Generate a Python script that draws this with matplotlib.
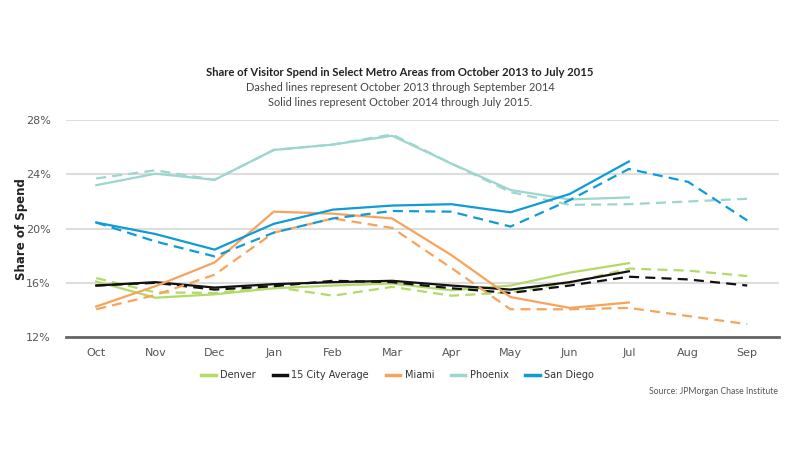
import numpy as np
import matplotlib.pyplot as plt

# months on the x axis (Oct..Sep)
months = ["Oct", "Nov", "Dec", "Jan", "Feb", "Mar", "Apr", "May", "Jun", "Jul", "Aug", "Sep"]

# solid lines: Oct 2014 - Jul 2015
denver_solid = [16.1, 14.9, 15.15, 15.6, 15.8, 15.95, 15.45, 15.8, 16.75, 17.45]
avg_solid = [15.8, 16.05, 15.65, 15.9, 16.05, 16.15, 15.8, 15.5, 16.05, 16.85]
miami_solid = [14.25, 15.75, 17.5, 21.25, 21.1, 20.75, 18.05, 14.95, 14.15, 14.55]
phoenix_solid = [23.2, 24.05, 23.6, 25.8, 26.2, 26.85, 24.8, 22.85, 22.15, 22.3]
sandiego_solid = [20.45, 19.6, 18.45, 20.35, 21.4, 21.7, 21.8, 21.2, 22.55, 24.95]

# dashed lines: Oct 2013 - Sep 2014
denver_dash = [16.35, 15.3, 15.25, 15.7, 15.05, 15.7, 15.05, 15.3, 16.0, 17.05, 16.9, 16.5]
avg_dash = [15.8, 16.0, 15.5, 15.75, 16.15, 16.05, 15.6, 15.25, 15.8, 16.45, 16.25, 15.8]
miami_dash = [14.05, 15.1, 16.6, 19.7, 20.75, 20.05, 17.1, 14.05, 14.05, 14.15, 13.55, 12.95]
phoenix_dash = [23.7, 24.3, 23.6, 25.8, 26.2, 26.95, 24.8, 22.7, 21.75, 21.8, 22.0, 22.2]
sandiego_dash = [20.45, 19.05, 17.95, 19.7, 20.75, 21.3, 21.25, 20.15, 22.1, 24.4, 23.45, 20.6]

names = ["Denver", "15 City Average", "Miami", "Phoenix", "San Diego"]
colors = ["#b3d968", "#111111", "#f7a35c", "#9dd5cf", "#0f9bd7"]
solids = [denver_solid, avg_solid, miami_solid, phoenix_solid, sandiego_solid]
dashes = [denver_dash, avg_dash, miami_dash, phoenix_dash, sandiego_dash]

fig = plt.figure(figsize=(8, 4.5), dpi=100)
ax = fig.add_axes([0.0825, 0.251, 0.8915, 0.482])

x = np.arange(len(months))
for name, col, s, d in zip(names, colors, solids, dashes):
    ax.plot(x[:len(d)], d, color=col, linewidth=1.6, linestyle=(0, (4.5, 2.8)))
    ax.plot(x[:len(s)], s, color=col, linewidth=1.6, label=name)

ax.set_xlim(-0.51, 11.54)
ax.set_ylim(12, 28)
ax.set_yticks([12, 16, 20, 24, 28])
ax.set_yticklabels(["12%", "16%", "20%", "24%", "28%"])
ax.set_xticks(x)
ax.set_xticklabels(months)
ax.tick_params(length=0, labelsize=8, colors="#555555", pad=8)
ax.tick_params(axis="y", pad=11)
ax.yaxis.grid(True, color="#dddddd", linewidth=1.5)
ax.set_axisbelow(True)
for side in ["top", "right", "left"]:
    ax.spines[side].set_visible(False)
ax.spines["bottom"].set_color("#666666")
ax.spines["bottom"].set_linewidth(2)
ax.set_ylabel("Share of Spend", fontsize=8.5, fontweight="bold", color="#222222")
ax.yaxis.set_label_coords(-0.053, 0.5)

fig.text(0.5, 0.832, "Share of Visitor Spend in Select Metro Areas from October 2013 to July 2015",
         ha="center", fontsize=8.1, fontweight="bold", color="#222222", family="Lato")
fig.text(0.5, 0.797, "Dashed lines represent October 2013 through September 2014",
         ha="center", fontsize=7.9, color="#444444", family="Lato")
fig.text(0.5, 0.765, "Solid lines represent October 2014 through July 2015.",
         ha="center", fontsize=7.9, color="#444444", family="Lato")

leg = fig.legend(loc="center", bbox_to_anchor=(0.497, 0.166), ncol=5, frameon=False,
                 fontsize=7.0, handlelength=1.5, columnspacing=1.7, handletextpad=0.45)
for t in leg.get_texts():
    t.set_color("#333333")
for h in leg.get_lines():
    h.set_linewidth(2.5)

fig.text(0.972, 0.124, "Source: JPMorgan Chase Institute", ha="right", fontsize=6.2,
         color="#555555", family="Lato")

plt.savefig("out.png", dpi=100)
